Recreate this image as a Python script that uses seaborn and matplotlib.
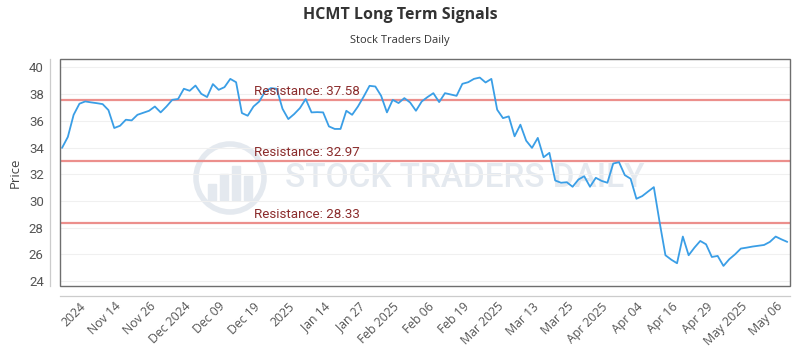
import numpy as np
import pandas as pd
import seaborn as sns
import matplotlib.pyplot as plt
from matplotlib.patches import Rectangle, Circle

# closing prices (one per trading day)
prices = [33.97, 34.79, 36.45, 37.28, 37.45, 37.38, 37.32, 37.25, 36.80, 35.46,
          35.63, 36.08, 36.03, 36.45, 36.60, 36.75, 37.07, 36.63, 37.07, 37.57,
          37.63, 38.40, 38.25, 38.64, 38.02, 37.78, 38.75, 38.32, 38.52, 39.14,
          38.89, 36.58, 36.38, 37.07, 37.45, 38.20, 38.45, 38.40, 36.90, 36.13,
          36.50, 36.95, 37.63, 36.63, 36.65, 36.63, 35.58, 35.39, 35.39, 36.75,
          36.45, 37.07, 37.82, 38.62, 38.57, 37.87, 36.63, 37.57, 37.33, 37.70,
          37.37, 36.75, 37.45, 37.78, 38.07, 37.40, 38.07, 37.97, 37.87, 38.77,
          38.89, 39.14, 39.24, 38.87, 39.14, 36.83, 36.20, 36.33, 34.84, 35.71,
          34.51, 33.97, 34.72, 33.27, 33.60, 31.53, 31.36, 31.40, 31.06, 31.60,
          31.85, 31.06, 31.73, 31.50, 31.36, 32.80, 32.90, 31.93, 31.66, 30.16,
          30.36, 30.70, 31.03, 28.40, 25.93, 25.60, 25.33, 27.33, 25.93, 26.50,
          27.00, 26.75, 25.80, 25.88, 25.13, 25.63, 26.00, 26.43, 26.50, 26.58,
          26.64, 26.70, 26.93, 27.33, 27.12, 26.93]

tick_labels = ["2024", "Nov 14", "Nov 26", "Dec 2024", "Dec 09", "Dec 19", "2025",
               "Jan 14", "Jan 27", "Feb 2025", "Feb 06", "Feb 19", "Mar 2025",
               "Mar 13", "Mar 25", "Apr 2025", "Apr 04", "Apr 16", "Apr 29",
               "May 2025", "May 06"]

resistance = [37.58, 32.97, 28.33]

df = pd.DataFrame({"day": np.arange(len(prices)), "price": prices})

sns.set_style("white")
plt.rcParams['font.family'] = ['Open Sans', 'DejaVu Sans']

fig = plt.figure(figsize=(8, 3.5), dpi=100)
ax = fig.add_axes([0.075, 0.183, 0.9125, 0.6477])

# watermark
wm = '#e4e9ef'
ax.text(0.356, 0.491, "STOCK TRADERS DAILY", transform=fig.transFigure,
        ha='left', va='center', fontsize=24, color=wm, fontweight='medium',
        family=['Roboto', 'DejaVu Sans'], zorder=0.5)
ax.add_artist(Circle((2.30, 1.72), 0.34, transform=fig.dpi_scale_trans, fill=False,
                     lw=4, ec=wm, zorder=0.5, clip_on=False))
for bx, bh in zip([2.08, 2.20, 2.32, 2.44], [0.16, 0.26, 0.34, 0.24]):
    ax.add_artist(Rectangle((bx, 1.50), 0.08, bh, transform=fig.dpi_scale_trans,
                            color=wm, zorder=0.5, clip_on=False))

sns.lineplot(data=df, x="day", y="price", color="#3a9ee6", linewidth=1.3,
             ax=ax, zorder=3)

for r in resistance:
    ax.axhline(r, color="#ec8f8c", lw=1.6, zorder=2)
    ax.annotate(f"Resistance: {r:.2f}", xy=(0.266, r), xycoords=ax.get_yaxis_transform(),
                xytext=(0, 1.5), textcoords='offset points', color='#8b2c2c',
                fontsize=9.6, va='bottom', family=['Roboto'], zorder=4)

ax.set_xlim(-0.35, len(prices) - 1 + 0.47)
ax.set_ylim(23.63, 40.61)
ax.set_yticks(np.arange(24, 41, 2))
ax.set_xticks(np.arange(3, len(prices), 6))
ax.set_xticklabels(tick_labels)
ax.yaxis.grid(True, color='#f0f0f0', lw=0.8)
ax.xaxis.grid(False)

for s in ['top', 'right']:
    ax.spines[s].set_visible(False)
for s in ['left', 'bottom']:
    ax.spines[s].set_position(('outward', 7.2))
    ax.spines[s].set_color('#cccccc')
    ax.spines[s].set_linewidth(0.9)
ax.add_patch(Rectangle((0, 0), 1, 1, transform=ax.transAxes, fill=False,
                       ec='#6e6e6e', lw=1, clip_on=False, zorder=5))

ax.tick_params(axis='both', length=0, colors='#555555')
ax.tick_params(axis='y', labelsize=9.5, pad=4.5)
ax.tick_params(axis='x', labelsize=8.8, pad=3, labelrotation=45)
for lab in ax.get_yticklabels():
    lab.set_family(['Roboto'])
plt.setp(ax.get_xticklabels(), ha='right', rotation_mode='anchor')

ax.set_xlabel("")
ax.set_ylabel("Price", fontsize=9.5, color='#444444', labelpad=5)

fig.text(0.5, 1 - 15 / 350, "HCMT Long Term Signals", ha='center', va='center',
         fontsize=11.5, fontweight='bold', color='#333333')
fig.text(0.5, 1 - 40 / 350, "Stock Traders Daily", ha='center', va='center',
         fontsize=8, color='#333333')

fig.savefig("out.png", dpi=100)
